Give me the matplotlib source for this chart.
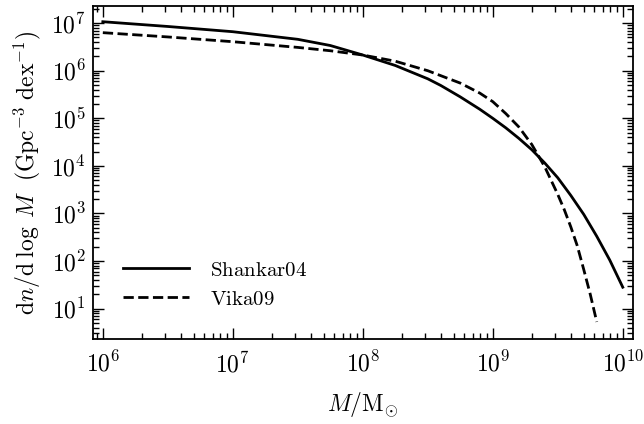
import numpy as np
import matplotlib
matplotlib.use("Agg")
import matplotlib.pyplot as plt
from matplotlib.ticker import LogLocator, NullFormatter

# Computer Modern look
plt.rcParams['mathtext.fontset'] = 'cm'
plt.rcParams['font.family'] = 'serif'
plt.rcParams['font.serif'] = ['cmr10', 'DejaVu Serif']
plt.rcParams['axes.unicode_minus'] = False
plt.rcParams['axes.formatter.use_mathtext'] = True

# Data (log10 values)
logm_shankar = [6.0, 6.5, 7.0, 7.5, 7.75, 8.0, 8.25, 8.5, 8.6, 8.75, 8.9, 9.0, 9.1,
                9.2, 9.3, 9.4, 9.5, 9.6, 9.7, 9.8, 9.9, 10.0]
logn_shankar = [7.03, 6.93, 6.82, 6.66, 6.53, 6.33, 6.11, 5.83, 5.69, 5.45, 5.19, 5.00, 4.80,
                4.58, 4.34, 4.06, 3.75, 3.38, 2.98, 2.52, 2.02, 1.45]

logm_vika = [6.0, 6.5, 7.0, 7.5, 7.75, 8.0, 8.25, 8.5, 8.75, 8.9, 9.0, 9.1, 9.2, 9.3,
             9.4, 9.5, 9.55, 9.6, 9.65, 9.7, 9.75, 9.8]
logn_vika = [6.80, 6.71, 6.61, 6.49, 6.42, 6.33, 6.20, 6.00, 5.74, 5.53, 5.35, 5.10, 4.82, 4.45,
             3.98, 3.40, 3.08, 2.72, 2.32, 1.82, 1.30, 0.72]

labels = [r'$\mathrm{Shankar04}$', r'$\mathrm{Vika09}$']

fig = plt.figure(figsize=(6.44, 4.24), dpi=100)
ax = fig.add_axes([0.1444, 0.2005, 0.8386, 0.7855])

ax.plot(10**np.array(logm_shankar), 10**np.array(logn_shankar), color='black', lw=2.0, ls='-', label=labels[0])
ax.plot(10**np.array(logm_vika), 10**np.array(logn_vika), color='black', lw=2.0, ls='--', label=labels[1])

ax.set_xscale('log')
ax.set_yscale('log')
ax.set_xlim(8.4e5, 1.2e10)
ax.set_ylim(2.3, 2.3e7)

for axis in (ax.xaxis, ax.yaxis):
    axis.set_major_locator(LogLocator(base=10, numticks=20))
    axis.set_minor_locator(LogLocator(base=10, subs=np.arange(2, 10), numticks=100))
    axis.set_minor_formatter(NullFormatter())

ax.tick_params(which='both', direction='in', top=True, right=True, labelsize=17)
ax.tick_params(which='major', length=8, width=1.0)
ax.tick_params(which='minor', length=4.5, width=1.0)
ax.tick_params(axis='x', which='major', pad=9)
ax.tick_params(axis='y', which='major', pad=5)
for s in ax.spines.values():
    s.set_linewidth(1.3)

ax.set_xlabel(r'$M/\mathrm{M}_{\odot}$', fontsize=17, labelpad=9)
ax.set_ylabel(r'$\mathrm{d}n/\mathrm{d}\;\log\;M\ \ (\mathrm{Gpc}^{-3}\ \mathrm{dex}^{-1})$', fontsize=17, labelpad=6)

ax.legend(loc='lower left', bbox_to_anchor=(0.02, 0.035), frameon=False, fontsize=15,
          handlelength=3.2, handletextpad=1.0, labelspacing=0.5)

fig.savefig('out.png', dpi=100)
